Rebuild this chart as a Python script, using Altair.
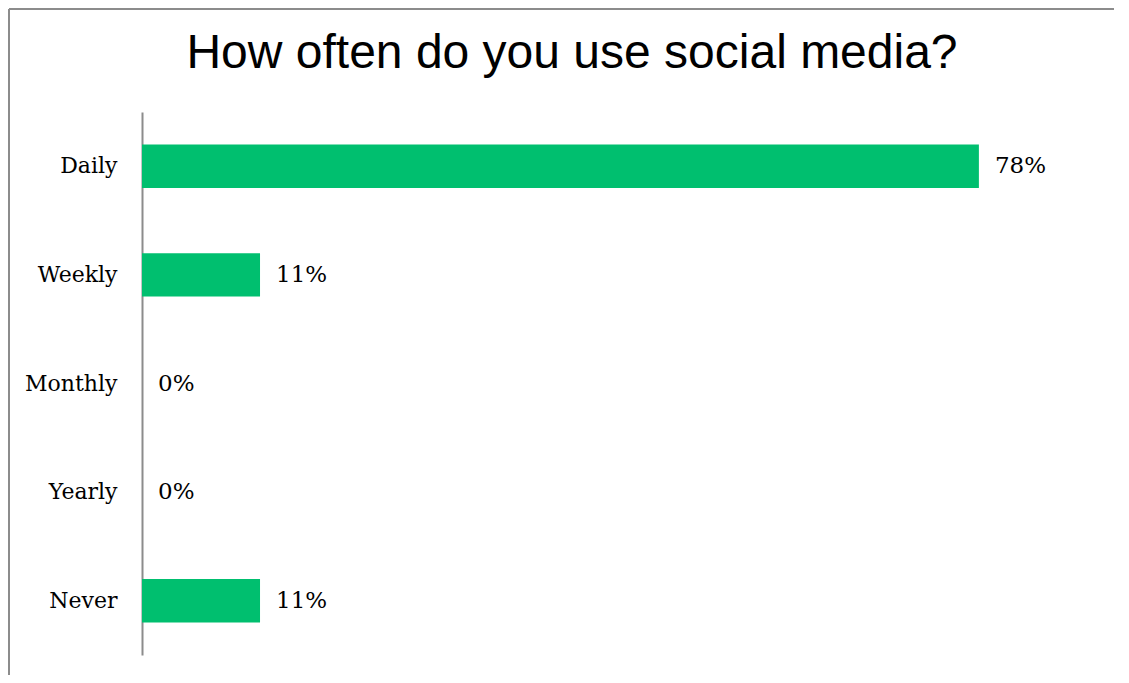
import altair as alt
import pandas as pd

categories = ["Daily", "Weekly", "Monthly", "Yearly", "Never"]
shares = [0.78, 0.11, 0.0, 0.0, 0.11]
title_text = "How often do you use social media?"

df = pd.DataFrame({"freq": categories, "share": shares})
one_df = pd.DataFrame({"k": [0]})

W, H = 912, 543
PAD_L, PAD_T = 134, 104

y_enc = alt.Y("freq:N", sort=categories,
              scale=alt.Scale(paddingInner=0.6, paddingOuter=0.3),
              axis=alt.Axis(title=None, ticks=False, labelPadding=25,
                            labelFont="DejaVu Serif", labelFontSize=22,
                            labelColor="#000000", domainColor="#8c8c8c",
                            domainWidth=2, grid=False))
x_enc = alt.X("share:Q", scale=alt.Scale(domain=[0, 0.85], nice=False),
              axis=None)

bars = alt.Chart(df).mark_bar(color="#00BF6F").encode(x=x_enc, y=y_enc)
labels = alt.Chart(df).mark_text(align="left", dx=16, baseline="middle",
                                 font="DejaVu Serif", fontSize=23,
                                 color="#000000").encode(
    x=x_enc, y=alt.Y("freq:N", sort=categories),
    text=alt.Text("share:Q", format=".0%"))

left_line = alt.Chart(one_df).mark_rule(color="#8c8c8c", strokeWidth=2).encode(
    x=alt.value(-PAD_L + 1), y=alt.value(-PAD_T + 1), y2=alt.value(H + 40))
top_line = alt.Chart(one_df).mark_rule(color="#8c8c8c", strokeWidth=2).encode(
    x=alt.value(-PAD_L + 1), x2=alt.value(W + 100), y=alt.value(-PAD_T + 1))
title = alt.Chart(one_df).mark_text(font="Liberation Sans", fontSize=48,
                                    color="#000000", align="center",
                                    baseline="alphabetic").encode(
    x=alt.value(572 - 142), y=alt.value(68 - 112), text=alt.value(title_text))

chart = alt.layer(left_line, top_line, bars, labels, title).properties(
    width=W, height=H,
    background="white",
    autosize=alt.AutoSizeParams(type="none"),
    padding={"left": PAD_L, "top": PAD_T, "right": 60, "bottom": 20},
).configure_view(stroke="transparent", strokeWidth=0)

chart.save("out.html", embed_options={"renderer": "svg", "actions": False})
